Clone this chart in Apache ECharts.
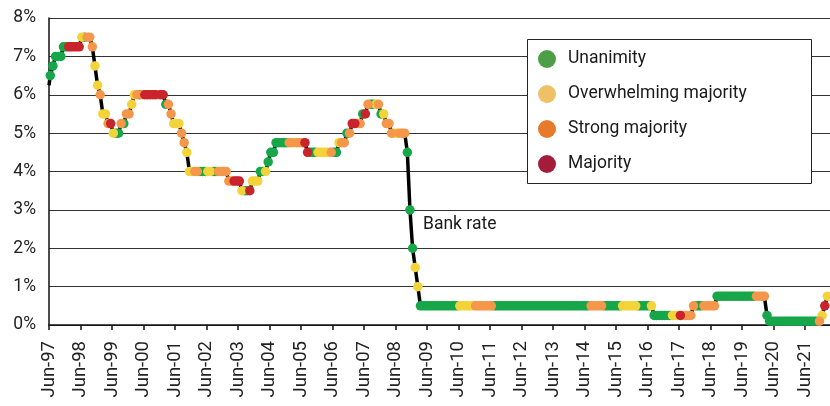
<!DOCTYPE html>
<html>
<head>
<meta charset="utf-8">
<script src="https://cdn.jsdelivr.net/npm/echarts@6/dist/echarts.min.js"></script>
<style>
  html, body { margin: 0; padding: 0; background: #fff; }
  #chart { width: 830px; height: 406px; }
</style>
</head>
<body>
<div id="chart"></div>
<script>
// Bank rate (%) at each month, Jun-97 onwards, one row per Jun..May year
const bankRate = [
  6.5, 6.75, 7, 7, 7, 7.25, 7.25, 7.25, 7.25, 7.25, 7.25, 7.25,
  7.5, 7.5, 7.5, 7.5, 7.25, 6.75, 6.25, 6, 5.5, 5.5, 5.25, 5.25,
  5, 5, 5, 5.25, 5.25, 5.5, 5.5, 5.75, 6, 6, 6, 6,
  6, 6, 6, 6, 6, 6, 6, 6, 5.75, 5.75, 5.5, 5.25,
  5.25, 5.25, 5, 4.75, 4.5, 4, 4, 4, 4, 4, 4, 4,
  4, 4, 4, 4, 4, 4, 4, 4, 3.75, 3.75, 3.75, 3.75,
  3.75, 3.5, 3.5, 3.5, 3.5, 3.75, 3.75, 3.75, 4, 4, 4, 4.25,
  4.5, 4.5, 4.75, 4.75, 4.75, 4.75, 4.75, 4.75, 4.75, 4.75, 4.75, 4.75,
  4.75, 4.75, 4.5, 4.5, 4.5, 4.5, 4.5, 4.5, 4.5, 4.5, 4.5, 4.5,
  4.5, 4.5, 4.75, 4.75, 4.75, 5, 5, 5.25, 5.25, 5.25, 5.25, 5.5,
  5.5, 5.75, 5.75, 5.75, 5.75, 5.75, 5.5, 5.5, 5.25, 5.25, 5, 5,
  5, 5, 5, 5, 4.5, 3, 2, 1.5, 1, 0.5, 0.5, 0.5,
  0.5, 0.5, 0.5, 0.5, 0.5, 0.5, 0.5, 0.5, 0.5, 0.5, 0.5, 0.5,
  0.5, 0.5, 0.5, 0.5, 0.5, 0.5, 0.5, 0.5, 0.5, 0.5, 0.5, 0.5,
  0.5, 0.5, 0.5, 0.5, 0.5, 0.5, 0.5, 0.5, 0.5, 0.5, 0.5, 0.5,
  0.5, 0.5, 0.5, 0.5, 0.5, 0.5, 0.5, 0.5, 0.5, 0.5, 0.5, 0.5,
  0.5, 0.5, 0.5, 0.5, 0.5, 0.5, 0.5, 0.5, 0.5, 0.5, 0.5, 0.5,
  0.5, 0.5, 0.5, 0.5, 0.5, 0.5, 0.5, 0.5, 0.5, 0.5, 0.5, 0.5,
  0.5, 0.5, 0.5, 0.5, 0.5, 0.5, 0.5, 0.5, 0.5, 0.5, 0.5, 0.5,
  0.5, 0.5, 0.25, 0.25, 0.25, 0.25, 0.25, 0.25, 0.25, 0.25, 0.25, 0.25,
  0.25, 0.25, 0.25, 0.25, 0.25, 0.5, 0.5, 0.5, 0.5, 0.5, 0.5, 0.5,
  0.5, 0.5, 0.75, 0.75, 0.75, 0.75, 0.75, 0.75, 0.75, 0.75, 0.75, 0.75,
  0.75, 0.75, 0.75, 0.75, 0.75, 0.75, 0.75, 0.75, 0.75, 0.25, 0.1, 0.1,
  0.1, 0.1, 0.1, 0.1, 0.1, 0.1, 0.1, 0.1, 0.1, 0.1, 0.1, 0.1,
  0.1, 0.1, 0.1, 0.1, 0.1, 0.1, 0.25, 0.5, 0.75
]

// rate before the first MPC decision (May-97)
const startRate = 6.25

// MPC vote per month: U unanimity, O overwhelming, S strong, M majority
const votes = [
  'UUUUUUUMMMMM', 'OUSSSOOSOOSM', 'OUUSUSSOOSUS', 'MMMMMSMMUSSO',
  'OOSSOOOSSUUU', 'OOUUSSSSSSMM', 'MOUUMOOOUUOU', 'UUUUUUUSSOSS',
  'SMMUUUOOOOOS', 'UUOSSUSMMSSU', 'MSUUOSUOSSSO', 'OSSSUUUOOUUU',
  'UUUUUUUUUUUU', 'OOOOOOSSSSSS', 'SUUUUUUUUUUU', 'UUUUUUUUUUUU',
  'UUUUUUUUUUUU', 'UUSSSSSUUUUU', 'UUOOOOOOUUUU', 'UOUUUUUUUOOO',
  'MSSSSSUUUSSS', 'SSUUUUUUUUUU', 'UUUUUSSSSUUU', 'UUUUUUUUUUUU',
  'UUUUUSOMO'
].join('')

const voteCodes = ['U', 'O', 'S', 'M']
const voteNames = ['Unanimity', 'Overwhelming majority', 'Strong majority', 'Majority']
const dotColors = ['#17a64a', '#f2d43a', '#f5974a', '#c9232b']
const legendColors = ['#4c9f47', '#efc166', '#e77a2b', '#a31d3b']

const startYear = 97
const axisMax = 297.5

const font = 'Roboto, "Noto Sans", sans-serif'

// line through the monthly points, meetings plotted mid-month
const lineData = [[0, startRate]]
bankRate.forEach((r, i) => lineData.push([i + 0.5, r]))

const dotSeries = voteCodes.map((code, k) => {
  const data = []
  bankRate.forEach((r, i) => {
    if (votes[i] === code) data.push([i + 0.5, r])
  })
  return {
    name: voteNames[k],
    type: 'scatter',
    data: data,
    symbolSize: 9.5,
    z: 3,
    itemStyle: { color: dotColors[k], opacity: 1 }
  }
})

const chart = echarts.init(document.getElementById('chart'))

const option = {
  animation: false,
  textStyle: { fontFamily: font },
  grid: { left: 49, right: 0, top: 18, bottom: 81, containLabel: false },
  xAxis: {
    type: 'value',
    min: 0,
    max: axisMax,
    interval: 12,
    axisLine: { show: true, lineStyle: { color: '#111', width: 1.5 } },
    axisTick: { show: true, length: 5, lineStyle: { color: '#111', width: 1.5 } },
    splitLine: { show: false },
    axisLabel: {
      rotate: 90,
      margin: 16,
      fontSize: 18.5,
      color: '#222',
      fontFamily: font,
      showMaxLabel: false,
      formatter: function (v) {
        if (v % 12 !== 0) return ''
        const yy = (startYear + v / 12) % 100
        return 'Jun-' + (yy < 10 ? '0' + yy : '' + yy)
      }
    }
  },
  yAxis: {
    type: 'value',
    min: 0,
    max: 8,
    interval: 1,
    axisLine: { show: true, lineStyle: { color: '#111', width: 1.5 } },
    axisTick: { show: false },
    splitLine: { show: true, lineStyle: { color: '#333', width: 1.2 } },
    axisLabel: {
      margin: 13,
      fontSize: 17.5,
      color: '#222',
      fontFamily: font,
      formatter: '{value}%'
    }
  },
  legend: {
    orient: 'vertical',
    left: 538,
    top: 50,
    padding: 0,
    z: 20,
    icon: 'circle',
    itemWidth: 18,
    itemHeight: 18,
    itemGap: 17,
    selectedMode: false,
    textStyle: {
      fontSize: 17.5,
      lineHeight: 18,
      color: '#1a1a1a',
      fontFamily: font,
      padding: [0, 0, 0, 7]
    },
    data: voteNames.map((n, k) => ({ name: n, itemStyle: { color: legendColors[k] } }))
  },
  graphic: [
    {
      type: 'rect',
      z: 10,
      shape: { x: 527.5, y: 39.5, width: 284, height: 144 },
      style: { fill: '#fff', stroke: '#222', lineWidth: 1 }
    },
    {
      type: 'text',
      z: 10,
      left: 423,
      top: 216,
      style: { text: 'Bank rate', fontSize: 17.5, fontFamily: font, fill: '#1a1a1a' }
    }
  ],
  series: [
    {
      name: 'Bank rate',
      type: 'line',
      data: lineData,
      symbol: 'none',
      z: 2,
      lineStyle: { color: '#000', width: 3.5 }
    }
  ].concat(dotSeries)
}

chart.setOption(option)
</script>
</body>
</html>
